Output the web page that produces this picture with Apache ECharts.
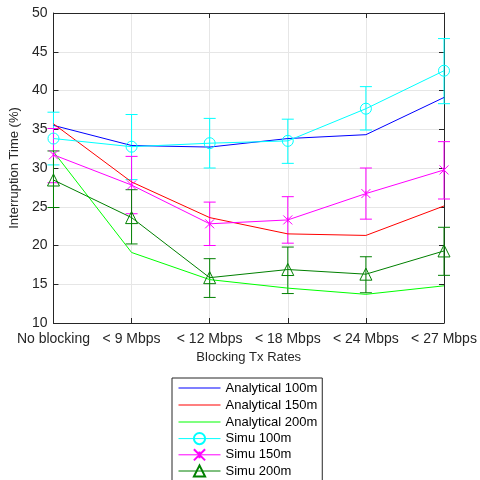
<!DOCTYPE html>
<html><head><meta charset="utf-8">
<script src="https://cdn.jsdelivr.net/npm/echarts@6/dist/echarts.min.js"></script>
<style>html,body{margin:0;padding:0;background:#fff}#c{width:480px;height:480px}</style>
</head><body><div id="c"></div>
<script>
const categories = ['No blocking', '< 9 Mbps', '< 12 Mbps', '< 18 Mbps', '< 24 Mbps', '< 27 Mbps'];
const yTicks = [10, 15, 20, 25, 30, 35, 40, 45, 50];
const analytical100 = [35.5, 32.9, 32.7, 33.8, 34.3, 39.1];
const analytical150 = [35.7, 28.2, 23.6, 21.5, 21.3, 25.1];
const analytical200 = [32.1, 19.1, 15.6, 14.5, 13.7, 14.8];
const simu100 = [33.8, 32.75, 33.2, 33.5, 37.65, 42.55];
const simu100Low = [30.4, 28.5, 30.0, 30.6, 34.9, 38.3];
const simu100High = [37.2, 36.9, 36.4, 36.3, 40.5, 46.7];
const simu150 = [31.7, 27.8, 22.8, 23.3, 26.7, 29.75];
const simu150Low = [28.1, 24.1, 20.0, 20.3, 23.4, 26.0];
const simu150High = [35.1, 31.5, 25.6, 26.3, 30.0, 33.4];
const simu200 = [28.45, 23.6, 15.85, 16.9, 16.3, 19.3];
const simu200Low = [24.9, 20.2, 13.3, 13.8, 13.9, 16.15];
const simu200High = [32.2, 27.2, 18.3, 19.8, 18.55, 22.35];

const FONT = '"Liberation Sans", Arial, sans-serif';
const TXT = '#262626';
const LINE_ICON = 'path://M0,0L0.01,0L0.01,0.01Z M0,6.5L42,6.5L42,7.5L0,7.5Z M41.99,13.99L42,13.99L42,14Z';

function errSeries(name, color, low, high) {
  return {
    type: 'custom', name: name, z: 3,
    data: categories.map((c, i) => [i, low[i], high[i]]),
    renderItem: function (params, api) {
      const x = api.value(0);
      const lo = api.coord([x, api.value(1)]);
      const hi = api.coord([x, api.value(2)]);
      const w = 6;
      const st = { stroke: color, lineWidth: 1 };
      return { type: 'group', children: [
        { type: 'line', shape: { x1: lo[0], y1: lo[1], x2: hi[0], y2: hi[1] }, style: st },
        { type: 'line', shape: { x1: lo[0] - w, y1: lo[1], x2: lo[0] + w, y2: lo[1] }, style: st },
        { type: 'line', shape: { x1: hi[0] - w, y1: hi[1], x2: hi[0] + w, y2: hi[1] }, style: st }
      ]};
    },
    silent: true
  };
}
function lineSeries(name, color, data, symbol, size) {
  const s = {
    type: 'line', name: name, data: data, z: 4,
    lineStyle: { color: color, width: 1 },
    animation: false
  };
  if (symbol) {
    s.symbol = symbol; s.symbolSize = size; s.showSymbol = true;
    s.itemStyle = { color: 'rgba(255,255,255,0)', borderColor: color, borderWidth: 1 };
  } else {
    s.symbol = 'none'; s.showSymbol = false;
    s.itemStyle = { color: color };
  }
  return s;
}

const chart = echarts.init(document.getElementById('c'), null, { renderer: 'canvas' });
chart.setOption({
  animation: false,
  backgroundColor: '#fff',
  textStyle: { fontFamily: FONT },
  grid: { left: 50, right: 36, top: 13, bottom: 157, containLabel: false },
  legend: {
    orient: 'vertical', left: 172, top: 378, height: 200,
    backgroundColor: '#fff', borderColor: '#262626', borderWidth: 1,
    padding: [3, 5, 3, 6], itemGap: 3, itemWidth: 42, itemHeight: 14,
    lineStyle: { width: 1 },
    textStyle: { fontFamily: FONT, fontSize: 13, color: '#000' },
    data: [
      { name: 'Analytical 100m', icon: LINE_ICON },
      { name: 'Analytical 150m', icon: LINE_ICON },
      { name: 'Analytical 200m', icon: LINE_ICON },
      'Simu 100m', 'Simu 150m', 'Simu 200m'
    ]
  },
  xAxis: [{
    type: 'category', data: categories, boundaryGap: false,
    name: 'Blocking Tx Rates', nameLocation: 'middle', nameGap: 27,
    nameTextStyle: { fontFamily: FONT, fontSize: 13, color: TXT },
    axisLine: { lineStyle: { color: TXT } },
    axisTick: { inside: true, length: 5, lineStyle: { color: TXT } },
    axisLabel: { fontFamily: FONT, fontSize: 14, color: TXT, margin: 9, interval: 0 },
    splitLine: { show: true, lineStyle: { color: '#e6e6e6' } }
  }, {
    type: 'category', data: categories, boundaryGap: false, position: 'top',
    axisLine: { lineStyle: { color: TXT } },
    axisTick: { inside: true, length: 5, lineStyle: { color: TXT } },
    axisLabel: { show: false }, splitLine: { show: false }
  }],
  yAxis: [{
    type: 'value', min: 10, max: 50, interval: 5,
    name: 'Interruption Time (%)', nameLocation: 'middle', nameGap: 27,
    nameTextStyle: { fontFamily: FONT, fontSize: 13, color: TXT },
    axisLine: { show: true, lineStyle: { color: TXT } },
    axisTick: { show: true, inside: true, length: 5, lineStyle: { color: TXT } },
    axisLabel: { fontFamily: FONT, fontSize: 14, color: TXT, margin: 6,
      formatter: v => yTicks.includes(v) ? String(v) : '' },
    splitLine: { show: true, lineStyle: { color: '#e6e6e6' } }
  }, {
    type: 'value', min: 10, max: 50, interval: 5, position: 'right',
    axisLine: { show: true, lineStyle: { color: TXT } },
    axisTick: { show: true, inside: true, length: 5, lineStyle: { color: TXT } },
    axisLabel: { show: false }, splitLine: { show: false }
  }],
  series: [
    lineSeries('Analytical 100m', '#0000ff', analytical100),
    lineSeries('Analytical 150m', '#ff0000', analytical150),
    lineSeries('Analytical 200m', '#00ff00', analytical200),
    errSeries('err100', '#00ffff', simu100Low, simu100High),
    lineSeries('Simu 100m', '#00ffff', simu100, 'circle', 11),
    errSeries('err150', '#ff00ff', simu150Low, simu150High),
    lineSeries('Simu 150m', '#ff00ff', simu150, 'path://M0,0L10,10M10,0L0,10M5,2L5,8', 9),
    errSeries('err200', '#008000', simu200Low, simu200High),
    lineSeries('Simu 200m', '#008000', simu200, 'triangle', 12)
  ]
});
</script></body></html>
